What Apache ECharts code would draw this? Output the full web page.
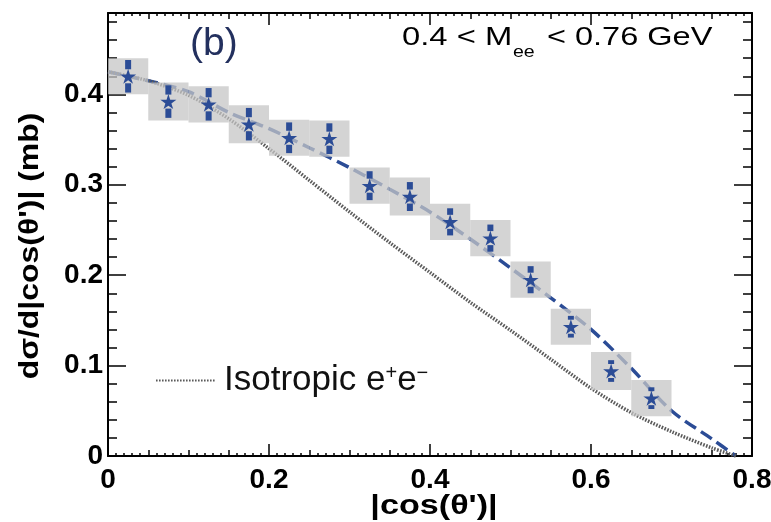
<!DOCTYPE html>
<html>
<head>
<meta charset="utf-8">
<script src="https://cdn.jsdelivr.net/npm/echarts@6/dist/echarts.min.js"></script>
<style>html,body{margin:0;padding:0;background:#fff}#c{width:771px;height:522px}</style>
</head>
<body>
<div id="c"></div>
<script>
// ---- data ----
const xCenters = [0.025, 0.075, 0.125, 0.175, 0.225, 0.275, 0.325, 0.375, 0.425, 0.475, 0.525, 0.575, 0.625, 0.675];
const yValues  = [0.420, 0.392, 0.389, 0.367, 0.352, 0.351, 0.299, 0.287, 0.259, 0.241, 0.195, 0.143, 0.094, 0.064];
const statErr  = [0.018, 0.018, 0.018, 0.018, 0.017, 0.017, 0.016, 0.016, 0.015, 0.015, 0.015, 0.012, 0.012, 0.012];
const sysErr   = [0.020, 0.021, 0.020, 0.021, 0.020, 0.020, 0.020, 0.021, 0.020, 0.020, 0.020, 0.020, 0.021, 0.020];
const binHalfWidth = 0.025;

const curveX = [0, 0.05, 0.1, 0.15, 0.2, 0.25, 0.3, 0.35, 0.4, 0.45, 0.5, 0.55, 0.6, 0.65, 0.7, 0.75, 0.78];
const fitY   = [0.425, 0.415, 0.403, 0.380, 0.362, 0.341, 0.319, 0.295, 0.270, 0.240, 0.208, 0.175, 0.140, 0.097, 0.050, 0.019, 0];
const isoY   = [0.425, 0.415, 0.399, 0.373, 0.340, 0.305, 0.270, 0.236, 0.203, 0.170, 0.139, 0.107, 0.075, 0.048, 0.027, 0.009, 0];

const xTickLabels = ['0', '0.2', '0.4', '0.6', '0.8'];
const yTickLabels = ['0', '0.1', '0.2', '0.3', '0.4'];
const legendName = 'Isotropic e+e−';

// ---- styling ----
const BLUE = '#2b4c96';
const FONT = '"Liberation Sans", Arial, Helvetica, sans-serif';
const STAR = 'path://M50,0 L61,35 L98,35 L68,57 L79,91 L50,70 L21,91 L32,57 L2,35 L39,35 Z';

function fmtX(v) { const i = Math.round(v / 0.2); return Math.abs(v - i * 0.2) < 1e-6 && xTickLabels[i] !== undefined ? xTickLabels[i] : ''; }
function fmtY(v) { const i = Math.round(v / 0.1); return Math.abs(v - i * 0.1) < 1e-6 && yTickLabels[i] !== undefined ? yTickLabels[i] : ''; }

function xAx(pos, interval, len, labels) {
  return {
    type: 'value', gridIndex: 0, position: pos, min: 0, max: 0.8, interval: interval,
    axisLine: { show: len === 12, onZero: false, lineStyle: { color: '#000', width: 2 } },
    axisTick: { show: true, inside: true, length: len, lineStyle: { color: '#000', width: 1.5 } },
    axisLabel: labels ? { show: true, formatter: fmtX, color: '#000', fontFamily: FONT, fontWeight: 'bold', fontSize: 28, margin: 10 } : { show: false },
    splitLine: { show: false }
  };
}
function yAx(pos, interval, len, labels) {
  return {
    type: 'value', gridIndex: 0, position: pos, min: 0, max: 0.49, interval: interval,
    axisLine: { show: len === 18, onZero: false, lineStyle: { color: '#000', width: 2 } },
    axisTick: { show: true, inside: true, length: len, lineStyle: { color: '#000', width: 1.5 } },
    axisLabel: labels ? { show: true, formatter: fmtY, showMaxLabel: false, color: '#000', fontFamily: FONT, fontWeight: 'bold', fontSize: 28, margin: 5 } : { show: false },
    splitLine: { show: false }
  };
}

const pts = xCenters.map((x, i) => [x, yValues[i]]);
const boxData = xCenters.map((x, i) => [x, yValues[i], sysErr[i]]);
const errData = xCenters.map((x, i) => [x, yValues[i], statErr[i]]);

const chart = echarts.init(document.getElementById('c'), null, { renderer: 'canvas' });
chart.setOption({
  animation: false,
  backgroundColor: '#fff',
  grid: { left: 108, right: 19, top: 13, bottom: 66, containLabel: false, outerBoundsMode: 'none' },
  xAxis: [
    xAx('bottom', 0.2, 12, true), xAx('bottom', 0.05, 6, false), xAx('bottom', 0.01, 3, false),
    xAx('top', 0.2, 12, false), xAx('top', 0.05, 6, false), xAx('top', 0.01, 3, false)
  ],
  yAxis: [
    yAx('left', 0.1, 18, true), yAx('left', 0.02, 9, false),
    yAx('right', 0.1, 18, false), yAx('right', 0.02, 9, false)
  ],
  legend: {
    show: true, left: 150, top: 358, orient: 'horizontal',
    itemWidth: 60, itemHeight: 14,
    itemStyle: { color: 'rgba(0,0,0,0)', borderWidth: 0, borderColor: 'rgba(0,0,0,0)' },
    data: [legendName],
    formatter: function () { return '{f|Isotropic e}{s|+}{a|e}{s|−}'; },
    textStyle: {
      color: '#000', fontFamily: FONT, fontSize: 35,
      rich: {
        f: { fontSize: 35, fontFamily: FONT, color: '#111', padding: [0, 0, 0, 3] },
        a: { fontSize: 35, fontFamily: FONT, color: '#111' },
        s: { fontSize: 20, fontFamily: FONT, color: '#111', verticalAlign: 'top', lineHeight: 22 }
      }
    }
  },
  graphic: [
    { type: 'text', x: 190, y: 44, style: { text: '(b)', fontSize: 39, fontFamily: FONT, fill: '#23305e', align: 'left', verticalAlign: 'middle' } },
    { type: 'text', x: 402, y: 38, scaleX: 1.26, style: { text: '0.4 < M', fontSize: 26, fontFamily: FONT, fill: '#000', align: 'left', verticalAlign: 'middle' } },
    { type: 'text', x: 513, y: 52, scaleX: 1.15, style: { text: 'ee', fontSize: 17, fontFamily: FONT, fill: '#000', align: 'left', verticalAlign: 'middle' } },
    { type: 'text', x: 547, y: 38, scaleX: 1.25, style: { text: '< 0.76 GeV', fontSize: 26, fontFamily: FONT, fill: '#000', align: 'left', verticalAlign: 'middle' } },
    { type: 'text', x: 434, y: 506, scaleX: 1.22, style: { text: "|cos(θ')|", fontSize: 28, fontWeight: 'bold', fontFamily: FONT, fill: '#000', align: 'center', verticalAlign: 'middle' } },
    { type: 'text', x: 30, y: 246, rotation: Math.PI / 2, scaleX: 1.14, style: { text: "dσ/d|cos(θ')| (mb)", fontSize: 28, fontWeight: 'bold', fontFamily: FONT, fill: '#000', align: 'center', verticalAlign: 'middle' } }
  ],
  series: [
    {
      name: 'fit', type: 'line', xAxisIndex: 0, yAxisIndex: 0, z: 2,
      data: curveX.map((x, i) => [x, fitY[i]]), smooth: 0.3, symbol: 'none',
      lineStyle: { color: BLUE, width: 3.5, type: [13, 6] }
    },
    {
      name: legendName, type: 'line', xAxisIndex: 0, yAxisIndex: 0, z: 2,
      data: curveX.map((x, i) => [x, isoY[i]]), smooth: 0.3, symbol: 'none',
      itemStyle: { color: '#5a5a5a' },
      lineStyle: { color: '#5a5a5a', width: 3.5, type: [1.6, 1.4] }
    },
    {
      name: 'sys', type: 'custom', xAxisIndex: 0, yAxisIndex: 0, z: 3,
      data: boxData, encode: { x: 0, y: 1 },
      renderItem: function (params, api) {
        const x = api.value(0), v = api.value(1), s = api.value(2);
        const p1 = api.coord([x - binHalfWidth, v + s]);
        const p2 = api.coord([x + binHalfWidth, v - s]);
        return { type: 'rect', shape: { x: p1[0], y: p1[1], width: p2[0] - p1[0], height: p2[1] - p1[1] },
          style: { fill: 'rgba(198,198,198,0.75)' } };
      }
    },
    {
      name: 'stat', type: 'custom', xAxisIndex: 0, yAxisIndex: 0, z: 4,
      data: errData, encode: { x: 0, y: 1 },
      renderItem: function (params, api) {
        const x = api.value(0), v = api.value(1), e = api.value(2);
        const c = api.coord([x, v]), hi = api.coord([x, v + e]), lo = api.coord([x, v - e]);
        const w = 6, gap = 7, ch = [];
        if (c[1] - gap > hi[1]) ch.push({ type: 'rect', shape: { x: c[0] - w / 2, y: hi[1], width: w, height: c[1] - gap - hi[1] }, style: { fill: BLUE } });
        if (lo[1] > c[1] + gap) ch.push({ type: 'rect', shape: { x: c[0] - w / 2, y: c[1] + gap, width: w, height: lo[1] - c[1] - gap }, style: { fill: BLUE } });
        return { type: 'group', children: ch };
      }
    },
    {
      name: 'data', type: 'scatter', xAxisIndex: 0, yAxisIndex: 0, z: 5,
      data: pts, symbol: STAR, symbolSize: [16, 15],
      itemStyle: { color: BLUE, opacity: 1 }
    }
  ]
});
</script>
</body>
</html>
